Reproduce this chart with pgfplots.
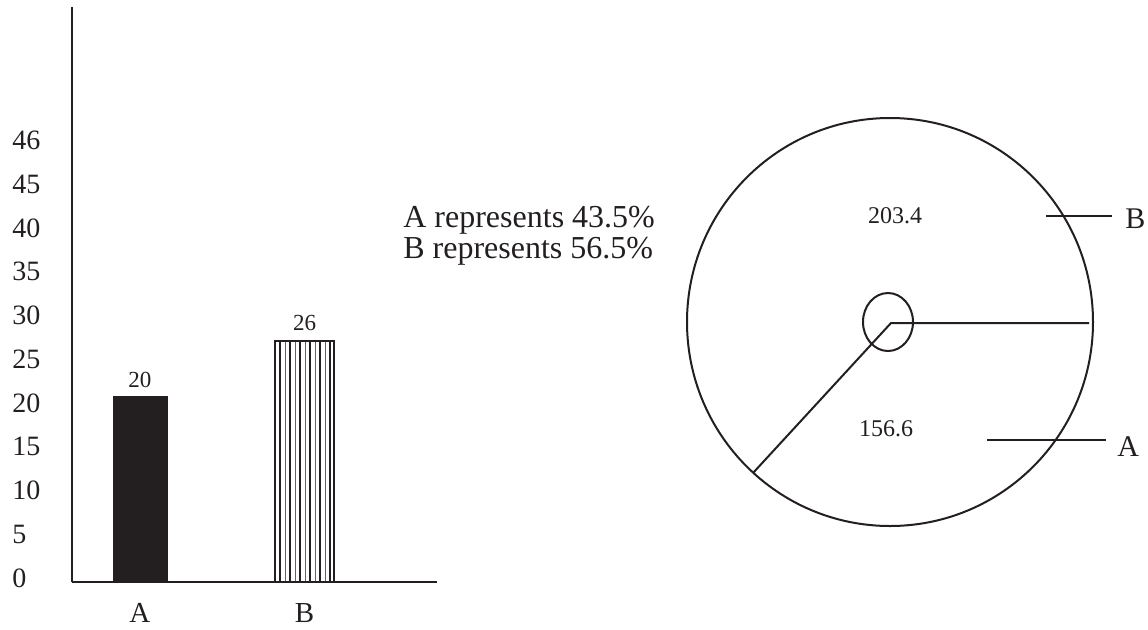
\documentclass[border=0pt]{standalone}
\usepackage{fontspec}
\setmainfont{Liberation Serif}
\usepackage{pgfplots}
\pgfplotsset{compat=1.18}
\usetikzlibrary{patterns.meta}
\definecolor{ink}{HTML}{231F20}

\begin{document}
\begin{tikzpicture}
\useasboundingbox (0,0) rectangle (574pt,314.5pt);

% bar chart (left)
\begin{axis}[
  at={(36pt,23.5pt)}, anchor=south west,
  scale only axis, width=182.5pt, height=287.5pt,
  xmin=0.587, xmax=2.805, ymin=0, ymax=62,
  axis x line=bottom, axis y line=left,
  axis line style={-, line width=1pt, color=ink},
  xtick={1,2}, xticklabels={A,B},
  ytick={0.43,5.15,9.87,14.59,19.31,24.03,28.75,33.47,38.19,42.91,47.63},
  yticklabels={0,5,10,15,20,25,30,35,40,45,46},
  major tick length=0pt, tick style={draw=none},
  /pgf/number format/assume math mode=true,
  yticklabel style={anchor=west, inner sep=0pt, xshift=-30pt, font=\fontsize{14}{16}\selectfont, text=ink},
  xticklabel style={yshift=-7pt, font=\fontsize{14.5}{16}\selectfont, text=ink},
  ybar,
  every node near coord/.append style={font=\fontsize{11.5}{13}\selectfont, text=ink, yshift=1pt},
  clip=false,
]
\addplot[fill=ink, draw=ink, bar width=27pt, bar shift=0pt, nodes near coords] coordinates {(1,20)};
\addplot[draw=none, bar width=29.5pt, bar shift=0pt, forget plot,
  pattern={Lines[angle=90,distance=5pt,xshift=2.5pt,line width=0.3pt]}, pattern color=ink!70] coordinates {(2,26)};
\addplot[draw=ink, line width=1pt, bar width=29.5pt, bar shift=0pt, nodes near coords,
  pattern={Lines[angle=90,distance=5pt,line width=0.9pt]}, pattern color=ink] coordinates {(2,26)};
\end{axis}

% pie sketch (right), coordinates in pixels of the page
\begin{axis}[
  at={(0pt,0pt)}, anchor=south west,
  scale only axis, width=574pt, height=314.5pt,
  xmin=0, xmax=1148, ymin=0, ymax=629, y dir=reverse,
  hide axis, clip=false,
]
\addplot[ink, line width=1pt] coordinates {(1089,323) (891,323) (753,473)};
\addplot[ink, line width=1pt] coordinates {(1046,216) (1112,216)};
\addplot[ink, line width=1pt] coordinates {(987,440) (1106,440)};
\draw[ink, line width=1pt] (axis cs:890,322) ellipse [x radius=101.5pt, y radius=102pt];
\draw[ink, line width=1pt] (axis cs:888,322) ellipse [x radius=12.5pt, y radius=14.5pt];
\node[anchor=base, inner sep=0pt, text=ink, font=\fontsize{12}{14}\selectfont] at (axis cs:895,223) {203.4};
\node[anchor=base, inner sep=0pt, text=ink, font=\fontsize{12}{14}\selectfont] at (axis cs:886,436) {156.6};
\node[anchor=base west, inner sep=0pt, text=ink, font=\fontsize{15}{17}\selectfont] at (axis cs:1125,228) {B};
\node[anchor=base west, inner sep=0pt, text=ink, font=\fontsize{15}{17}\selectfont] at (axis cs:1117,456) {A};
\node[anchor=base west, inner sep=0pt, text=ink, font=\fontsize{16}{18}\selectfont] at (axis cs:403,227) {A represents 43.5\%};
\node[anchor=base west, inner sep=0pt, text=ink, font=\fontsize{16}{18}\selectfont] at (axis cs:403,258) {B represents 56.5\%};
\end{axis}
\end{tikzpicture}
\end{document}
